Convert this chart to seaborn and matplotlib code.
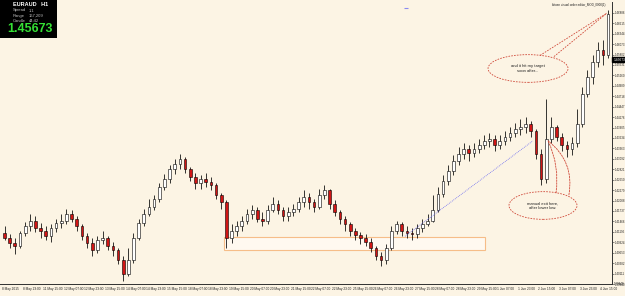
import numpy as np
import pandas as pd
import matplotlib
matplotlib.use("Agg")
import matplotlib.pyplot as plt
import seaborn as sns
from matplotlib.patches import Ellipse, Rectangle

# ---------------- data ----------------
symbol = "EURAUD"
timeframe = "H1"
current_price = 1.45673
info_rows = [("Spread", "1.1"), ("Range", "167,209"), ("Candle", "44:42")]
bar_hours = 4
first_open = 1.4116

closes = [1.4103, 1.4090, 1.4082, 1.4116, 1.4134, 1.4149, 1.4129, 1.4123, 1.4108, 1.4129,
          1.4142, 1.4149, 1.4167, 1.4154, 1.4134, 1.4108, 1.4090, 1.4072, 1.4098, 1.4103,
          1.4082, 1.4072, 1.4046, 1.4010, 1.4046, 1.4103, 1.4142, 1.4167, 1.4185, 1.4206,
          1.4237, 1.4258, 1.4283, 1.4296, 1.4309, 1.4283, 1.4263, 1.4247, 1.4258, 1.4250,
          1.4242, 1.4216, 1.4196, 1.4103, 1.4123, 1.4134, 1.4149, 1.4167, 1.4175, 1.4154,
          1.4149, 1.4175, 1.4193, 1.4175, 1.4160, 1.4170, 1.4180, 1.4196, 1.4211, 1.4196,
          1.4185, 1.4216, 1.4227, 1.4193, 1.4170, 1.4154, 1.4139, 1.4123, 1.4111, 1.4103,
          1.4093, 1.4077, 1.4056, 1.4046, 1.4077, 1.4123, 1.4139, 1.4123, 1.4116, 1.4113,
          1.4129, 1.4139, 1.4149, 1.4175, 1.4219, 1.4252, 1.4278, 1.4304, 1.4322, 1.4335,
          1.4325, 1.4335, 1.4345, 1.4356, 1.4361, 1.4345, 1.4356, 1.4366, 1.4376, 1.4387,
          1.4392, 1.4399, 1.4381, 1.4322, 1.4258, 1.4361, 1.4392, 1.4366, 1.4345, 1.4335,
          1.4350, 1.4399, 1.4477, 1.4521, 1.4562, 1.4593, 1.4580, 1.4686]

highs = [1.4134, 1.4113, 1.4103, 1.4123, 1.4144, 1.4165, 1.4160, 1.4142, 1.4134, 1.4139,
         1.4154, 1.4165, 1.4180, 1.4175, 1.4160, 1.4139, 1.4116, 1.4103, 1.4108, 1.4123,
         1.4108, 1.4093, 1.4077, 1.4056, 1.4077, 1.4116, 1.4154, 1.4180, 1.4206, 1.4216,
         1.4247, 1.4271, 1.4294, 1.4309, 1.4322, 1.4314, 1.4289, 1.4273, 1.4268, 1.4273,
         1.4263, 1.4247, 1.4221, 1.4201, 1.4139, 1.4149, 1.4160, 1.4180, 1.4190, 1.4185,
         1.4170, 1.4190, 1.4211, 1.4201, 1.4185, 1.4185, 1.4193, 1.4211, 1.4227, 1.4221,
         1.4206, 1.4232, 1.4242, 1.4232, 1.4201, 1.4175, 1.4160, 1.4144, 1.4129, 1.4118,
         1.4113, 1.4103, 1.4082, 1.4067, 1.4087, 1.4134, 1.4149, 1.4144, 1.4134, 1.4129,
         1.4139, 1.4154, 1.4165, 1.4216, 1.4237, 1.4268, 1.4294, 1.4319, 1.4340, 1.4350,
         1.4345, 1.4350, 1.4361, 1.4371, 1.4376, 1.4371, 1.4371, 1.4381, 1.4392, 1.4402,
         1.4412, 1.4418, 1.4407, 1.4387, 1.4335, 1.4464, 1.4418, 1.4397, 1.4376, 1.4356,
         1.4366, 1.4438, 1.4495, 1.4541, 1.4580, 1.4614, 1.4619, 1.4696]

lows = [1.4098, 1.4077, 1.4061, 1.4077, 1.4108, 1.4123, 1.4118, 1.4103, 1.4098, 1.4093,
        1.4118, 1.4129, 1.4139, 1.4144, 1.4123, 1.4098, 1.4077, 1.4056, 1.4064, 1.4087,
        1.4072, 1.4056, 1.4036, 1.3992, 1.4005, 1.4038, 1.4098, 1.4134, 1.4160, 1.4175,
        1.4196, 1.4227, 1.4247, 1.4271, 1.4283, 1.4273, 1.4252, 1.4232, 1.4232, 1.4237,
        1.4227, 1.4206, 1.4180, 1.4077, 1.4090, 1.4108, 1.4123, 1.4139, 1.4154, 1.4144,
        1.4134, 1.4139, 1.4170, 1.4165, 1.4149, 1.4149, 1.4160, 1.4170, 1.4185, 1.4180,
        1.4170, 1.4180, 1.4206, 1.4180, 1.4160, 1.4139, 1.4123, 1.4108, 1.4098, 1.4087,
        1.4082, 1.4067, 1.4046, 1.4030, 1.4036, 1.4072, 1.4113, 1.4108, 1.4103, 1.4098,
        1.4103, 1.4118, 1.4134, 1.4144, 1.4170, 1.4211, 1.4242, 1.4268, 1.4294, 1.4309,
        1.4304, 1.4314, 1.4325, 1.4335, 1.4340, 1.4330, 1.4335, 1.4345, 1.4356, 1.4366,
        1.4371, 1.4376, 1.4366, 1.4309, 1.4242, 1.4247, 1.4350, 1.4356, 1.4330, 1.4314,
        1.4319, 1.4340, 1.4392, 1.4469, 1.4505, 1.4547, 1.4552, 1.4572]

x_tick_labels = ["8 May 2015", "8 May 23:00", "11 May 15:00", "12 May 07:00", "12 May 23:00",
                 "13 May 15:00", "14 May 07:00", "14 May 23:00", "15 May 15:00", "18 May 07:00",
                 "18 May 23:00", "19 May 15:00", "20 May 07:00", "20 May 23:00", "21 May 15:00",
                 "22 May 07:00", "22 May 23:00", "25 May 15:00", "26 May 07:00", "26 May 23:00",
                 "27 May 15:00", "28 May 07:00", "28 May 23:00", "29 May 15:00", "1 Jun 07:00",
                 "1 Jun 23:00", "2 Jun 15:00", "3 Jun 07:00", "3 Jun 23:00", "4 Jun 15:00"]
x_tick_every = 16
y_tick_start = 1.39840
y_tick_step = 0.00271
y_tick_count = 27

# drawings (data coordinates: hour index, price)
zone_x = (172.2, 374.5)
zone_y = (1.4072, 1.4105)
trade_line_x = [312.5, 411.7]
trade_line_y = [1.4108, 1.4356]
note1_text = "and it hit my target\nsoon after..."
note1_center = (407.9, 1.4544)
note1_size = (62.0, 0.0072)
note1_tail_from = [(417.2, 1.4578), (428.0, 1.4575)]
note1_tail_to = (469.1, 1.4688)
note2_text = "manual exit here,\nafter lower low."
note2_center = (419.5, 1.4188)
note2_size = (52.7, 0.0072)
note2_tail_from = [(429.6, 1.4221), (439.6, 1.4216)]
note2_tail_to = (423.4, 1.4356)
marker_point = (313.3, 1.4701)
ea_label = "kitoen visual order editor_MOD_0000(1)"

# ---------------- style ----------------
bg = "#FCF4E4"
sns.set_style("white")
plt.rcParams["font.family"] = ["Liberation Sans", "DejaVu Sans"]

n = len(closes)
opens = [first_open] + closes[:-1]
df = pd.DataFrame({
    "hour": np.arange(n) * bar_hours + bar_hours / 2,
    "open": opens, "high": highs, "low": lows, "close": closes,
})
df["high"] = df[["high", "open", "close"]].max(axis=1)
df["low"] = df[["low", "open", "close"]].min(axis=1)
df["bull"] = df["close"] >= df["open"]

fig = plt.figure(figsize=(6.25, 2.96), dpi=100)
fig.patch.set_facecolor(bg)
ax = fig.add_axes([0, 1 - 284 / 296, 612 / 625, 282 / 296])
ax.set_facecolor(bg)

# zone rectangle
ax.add_patch(Rectangle((zone_x[0], zone_y[0]), zone_x[1] - zone_x[0], zone_y[1] - zone_y[0],
                       facecolor="#FFF9F0", edgecolor="#F6BD88", lw=0.8, zorder=1))

# candles
ax.vlines(df["hour"], df["low"], df["high"], color="black", lw=0.55, zorder=3)
body_bottom = np.minimum(df["open"], df["close"])
body_h = np.maximum(np.abs(df["close"] - df["open"]), 0.00006)
ax.bar(df["hour"], body_h, bottom=body_bottom, width=2.1,
       color=np.where(df["bull"], "white", "#D01515"), edgecolor="black", lw=0.4, zorder=4)

# trade line
trade_df = pd.DataFrame({"hour": trade_line_x, "price": trade_line_y})
sns.lineplot(data=trade_df, x="hour", y="price", ax=ax, color="#6E6EF0", lw=0.6,
             linestyle=(0, (1, 1.2)), zorder=5)
ax.plot([marker_point[0]], [marker_point[1]], marker="_", color="#8A8AF0", ms=2.5, mew=0.8)

# callouts
red = "#D04A3A"
for center, size, text in [(note1_center, note1_size, note1_text),
                           (note2_center, note2_size, note2_text)]:
    ax.add_patch(Ellipse(center, size[0], size[1], facecolor="none", edgecolor=red,
                         lw=0.6, linestyle=(0, (2, 1.4)), zorder=6))
    ax.text(center[0], center[1], text, ha="center", va="center", fontsize=3.0,
            color="#202020", linespacing=1.3, zorder=7)
for p in note1_tail_from:
    ax.plot([p[0], note1_tail_to[0]], [p[1], note1_tail_to[1]], color=red, lw=0.6,
            linestyle=(0, (2, 1.4)), zorder=6)
for p, rad in zip(note2_tail_from, [0.15, 0.3]):
    ax.annotate("", xy=note2_tail_to, xytext=p,
                arrowprops=dict(arrowstyle="-", color=red, lw=0.6, linestyle=(0, (2, 1.4)),
                                connectionstyle=f"arc3,rad={rad}", shrinkA=0, shrinkB=0),
                zorder=6)

# axes
ax.set_xlim(-1.5, 473)
ax.set_ylim(1.39892, 1.47168)
for s in ["left", "top"]:
    ax.spines[s].set_visible(False)
for s in ["right", "bottom"]:
    ax.spines[s].set_color("#303030")
    ax.spines[s].set_linewidth(0.7)
ax.set_xticks(np.arange(len(x_tick_labels)) * x_tick_every)
ax.set_xticklabels(x_tick_labels, ha="left", fontsize=2.3, color="#202020")
yt = y_tick_start + np.arange(y_tick_count) * y_tick_step
ax.yaxis.tick_right()
ax.set_yticks(yt)
ax.set_yticklabels([f"{v:.5f}" for v in yt], fontsize=2.1, color="#202020")
ax.text(1.003, y_tick_start + 0.0001, f"{y_tick_start:.5f}", transform=ax.get_yaxis_transform(),
        fontsize=2.1, va="center", ha="left", clip_on=False, color="#202020")
ax.tick_params(axis="both", length=1.6, width=0.4, pad=0.6, colors="#303030")
ax.tick_params(axis="y", labelcolor="#202020")
ax.tick_params(axis="x", labelcolor="#202020")
ax.set_xlabel("")
ax.set_ylabel("")
ax.grid(False)

# current price box
ax.text(1.002, current_price, f"{current_price:.5f}", transform=ax.get_yaxis_transform(),
        fontsize=2.3, color="white", va="center", ha="left", clip_on=False, zorder=10,
        bbox=dict(boxstyle="square,pad=0.25", facecolor="black", edgecolor="black"))

# info panel
fig.patches.append(Rectangle((0, 1 - 38 / 296), 57 / 625, 38 / 296, transform=fig.transFigure,
                             facecolor="black", edgecolor="none", zorder=20))
fig.text(13 / 625, 1 - 5 / 296, f"{symbol}   {timeframe}", fontsize=4.0, color="white",
         fontweight="bold", va="center", ha="left", zorder=21)
for i, (lab, val) in enumerate(info_rows):
    yy = 1 - (10.5 + i * 5) / 296
    fig.text(13 / 625, yy, lab, fontsize=3.0, color="#BFBFBF", va="center", ha="left", zorder=21)
    fig.text(29 / 625, yy, val, fontsize=3.0, color="#BFBFBF", va="center", ha="left", zorder=21)
fig.text(30 / 625, 1 - 28.5 / 296, f"{current_price:.5f}", fontsize=9, color="#35E035",
         fontweight="bold", va="center", ha="center", zorder=21)

fig.text(605 / 625, 1 - 5 / 296, ea_label, fontsize=2.2, color="#202020", va="center", ha="right")

fig.savefig("out.png", dpi=100, facecolor=bg)
